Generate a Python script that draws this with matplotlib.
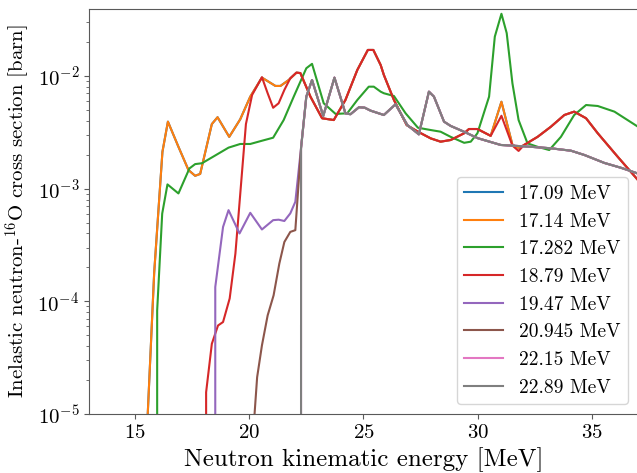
import matplotlib
matplotlib.use("Agg")
import matplotlib.pyplot as plt

plt.rcParams['font.family'] = 'serif'
plt.rcParams['font.serif'] = ['cmr10', 'DejaVu Serif']
plt.rcParams['mathtext.fontset'] = 'cm'
plt.rcParams['axes.formatter.use_mathtext'] = True

labels = ['17.09 MeV', '17.14 MeV', '17.282 MeV', '18.79 MeV',
          '19.47 MeV', '20.945 MeV', '22.15 MeV', '22.89 MeV']

# tail shared by the higher thresholds (purple, brown, pink, grey)
tail_e = [22.27, 22.50, 22.75, 23.24, 23.73, 24.21, 24.43, 24.80, 25.05, 25.31,
          25.89, 26.40, 26.92, 27.42, 27.86, 28.08, 28.52, 28.81, 29.39, 30.00,
          31.00, 31.44, 32.32, 33.19, 34.07, 34.65, 35.53, 36.26, 37.00, 37.50]
tail_xs = [2.3e-3, 6.55e-3, 9.2e-3, 4.41e-3, 9.66e-3, 4.66e-3, 4.57e-3, 5.27e-3, 5.23e-3, 4.92e-3,
           4.5e-3, 5.6e-3, 3.66e-3, 3.03e-3, 7.25e-3, 6.55e-3, 3.93e-3, 3.6e-3, 3.2e-3, 2.8e-3,
           2.44e-3, 2.41e-3, 2.35e-3, 2.28e-3, 2.17e-3, 1.99e-3, 1.69e-3, 1.53e-3, 1.36e-3, 1.28e-3]

# 18.79 MeV (red) above 22 MeV, also followed by 17.14 MeV
high_e = [22.07, 22.24, 22.68, 23.19, 23.70, 24.21, 24.73, 25.19, 25.43, 25.75,
          25.89, 26.33, 26.89, 27.38, 27.94, 28.37, 28.81, 29.40, 29.61, 29.98,
          30.56]
high_xs = [1.07e-2, 1.06e-2, 6.55e-3, 4.21e-3, 4.06e-3, 6.12e-3, 1.13e-2, 1.7e-2, 1.7e-2, 1.25e-2,
           1.02e-2, 6.12e-3, 3.66e-3, 3.2e-3, 2.79e-3, 2.61e-3, 2.7e-3, 3.1e-3, 3.38e-3, 3.38e-3,
           2.94e-3]
end_e = [32.02, 32.61, 33.19, 33.78, 34.21, 34.73, 35.24, 36.11, 37.00, 37.50]
end_xs = [2.44e-3, 2.88e-3, 3.54e-3, 4.5e-3, 4.82e-3, 4.21e-3, 3.1e-3, 1.92e-3, 1.19e-3, 9.5e-4]

e_1714 = [15.45, 15.85, 16.21, 16.45, 16.91, 17.35, 17.64, 17.86, 18.37, 18.62,
          19.13, 19.61, 20.05, 20.56, 21.15, 21.37, 21.73] + high_e + [31.03, 31.51, 31.78] + end_e
xs_1714 = [3e-6, 1.8e-4, 2.12e-3, 3.93e-3, 2.35e-3, 1.46e-3, 1.30e-3, 1.35e-3, 3.74e-3, 4.3e-3,
           2.88e-3, 4.12e-3, 6.55e-3, 9.66e-3, 8.15e-3, 8.15e-3, 9.2e-3] + high_xs + [5.9e-3, 2.45e-3, 2.3e-3] + end_xs

e_17282 = [15.75, 15.98, 16.20, 16.43, 16.91, 17.39, 17.64, 17.94, 18.37, 19.10,
           19.61, 20.05, 20.56, 21.05, 21.51, 21.95, 22.50, 22.75, 23.26, 23.78,
           24.29, 24.73, 25.23, 25.45, 25.75, 25.89, 26.33, 26.84, 27.38, 27.94,
           28.37, 28.81, 29.40, 29.69, 29.98, 30.49, 30.74, 31.03, 31.26, 31.51,
           31.78, 32.17, 32.61, 33.12, 33.63, 34.21, 34.73, 35.24, 35.97, 37.00, 37.50]
xs_17282 = [0.0, 8.3e-5, 6.0e-4, 1.09e-3, 9.06e-4, 1.51e-3, 1.65e-3, 1.68e-3, 1.89e-3, 2.31e-3,
            2.49e-3, 2.49e-3, 2.66e-3, 2.83e-3, 4.06e-3, 6.55e-3, 1.17e-2, 1.28e-2, 5.72e-3, 4.6e-3,
            4.66e-3, 6.12e-3, 8.03e-3, 8.03e-3, 7.25e-3, 7.02e-3, 6.64e-3, 4.66e-3, 3.47e-3, 3.31e-3,
            3.2e-3, 2.88e-3, 2.55e-3, 2.61e-3, 3.1e-3, 6.55e-3, 2.23e-2, 3.56e-2, 2.4e-2, 8.61e-3,
            4.06e-3, 2.52e-3, 2.35e-3, 2.2e-3, 2.88e-3, 4.5e-3, 5.52e-3, 5.41e-3, 4.82e-3, 3.54e-3, 3.2e-3]

e_1879 = [17.90, 18.12, 18.37, 18.64, 18.86, 19.15, 19.40, 19.86, 20.13, 20.56,
          20.81, 21.05, 21.29, 21.54, 21.80] + high_e + [31.03, 31.51, 31.78] + end_e
xs_1879 = [0.0, 1.56e-5, 4.2e-5, 6.1e-5, 6.55e-5, 1.06e-4, 2.65e-4, 3.74e-3, 6.78e-3, 9.74e-3,
           7.02e-3, 5.22e-3, 5.72e-3, 7.51e-3, 9.54e-3] + high_xs + [4.43e-3, 2.41e-3, 2.16e-3] + end_xs

e_1947 = [18.30, 18.52, 18.86, 19.10, 19.58, 20.05, 20.56, 21.05, 21.29, 21.54,
          21.80, 22.02] + tail_e
xs_1947 = [0.0, 1.34e-4, 4.57e-4, 6.44e-4, 4.0e-4, 6.1e-4, 4.34e-4, 5.25e-4, 5.3e-4, 5.16e-4,
           6.03e-4, 7.64e-4] + tail_xs

e_20945 = [20.10, 20.35, 20.56, 20.81, 21.07, 21.32, 21.54, 21.80, 22.02] + tail_e
xs_20945 = [4e-6, 2.12e-5, 4.06e-5, 7.5e-5, 1.13e-4, 2.16e-4, 3.36e-4, 4.13e-4, 4.28e-4] + tail_xs

e_2289 = [22.02] + tail_e
xs_2289 = [0.0] + tail_xs

series = [(e_1714, xs_1714), (e_1714, xs_1714), (e_17282, xs_17282), (e_1879, xs_1879),
          (e_1947, xs_1947), (e_20945, xs_20945), (e_2289, xs_2289), (e_2289, xs_2289)]

fig = plt.figure(figsize=(6.37, 4.73), dpi=100)
ax = fig.add_axes([89 / 637, 59 / 473, 549 / 637, 405.3 / 473])

for (e, xs), lab in zip(series, labels):
    ax.plot(e, xs, label=lab, lw=1.5)

ax.set_yscale('log', nonpositive='clip')
ax.set_xlim(13, 37)
ax.set_ylim(1e-5, 3.95e-2)
ax.set_xlabel('Neutron kinematic energy [MeV]', fontsize=18)
ax.set_ylabel(r'Inelastic neutron-$^{16}$O cross section [barn]', fontsize=15)
ax.tick_params(labelsize=15)
for s in ax.spines.values():
    s.set_color('0.35')
ax.tick_params(colors='0.35', labelcolor='black', which='both')
ax.legend(loc='lower right', fontsize=14)

fig.savefig('out.png', dpi=100)
